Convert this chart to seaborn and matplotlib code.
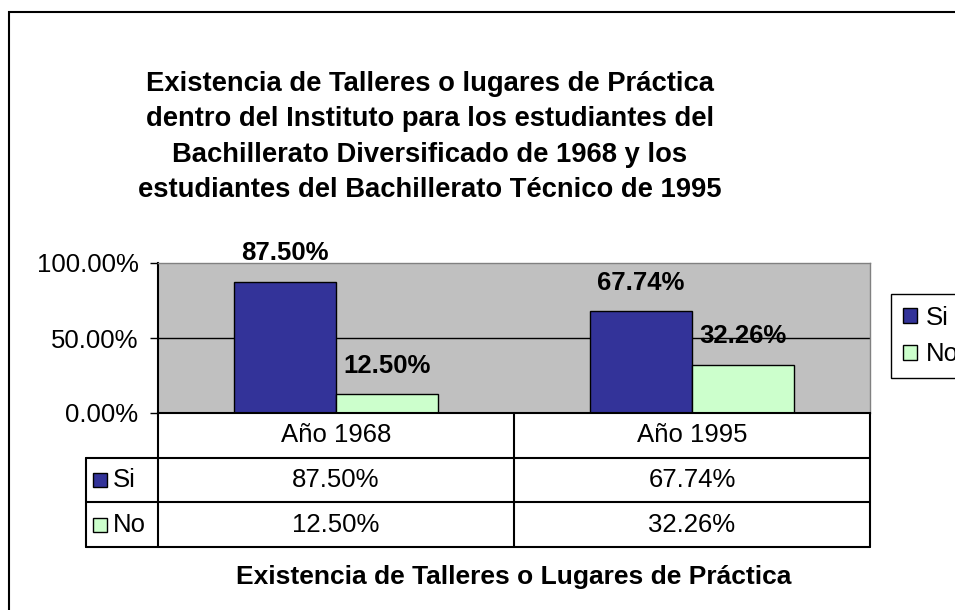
import seaborn as sns
import matplotlib.pyplot as plt
import matplotlib.patches as mpatches
import pandas as pd

# Data
anios = ["Año 1968", "Año 1995"]
respuestas = ["Si", "No"]
si_vals = [0.8750, 0.6774]
no_vals = [0.1250, 0.3226]
colores = ["#333399", "#CCFFCC"]

titulo = ("Existencia de Talleres o lugares de Práctica\n"
          "dentro del Instituto para los estudiantes del\n"
          "Bachillerato Diversificado de 1968 y los\n"
          "estudiantes del Bachillerato Técnico de 1995")
xlabel = "Existencia de Talleres o Lugares de Práctica"

sns.set_style("white")
plt.rcParams['font.family'] = ['Liberation Sans', 'DejaVu Sans']
plt.rcParams['text.color'] = 'black'
plt.rcParams['ytick.color'] = 'black'
plt.rcParams['xtick.color'] = 'black'
plt.rcParams['axes.labelcolor'] = 'black'

df = pd.DataFrame({
    "anio": anios * 2,
    "resp": [respuestas[0]] * 2 + [respuestas[1]] * 2,
    "valor": si_vals + no_vals,
})

W, H = 955, 610
fs = 18.5
fig = plt.figure(figsize=(W / 100, H / 100), dpi=100)

# outer chart frame (right and bottom edges fall outside the picture)
fig.patches.append(mpatches.Rectangle((9 / W, -0.1), 1.5, 1 - 12 / H + 0.1,
                                      transform=fig.transFigure, fill=False,
                                      edgecolor="black", linewidth=1.5))

# plot area: x 158..870 px, y 263..413 px
ax = fig.add_axes([158 / W, 1 - 413 / H, 712 / W, 150 / H])
ax.set_facecolor("#C0C0C0")
sns.barplot(data=df, x="anio", y="valor", hue="resp", palette=colores,
            width=0.573, gap=0, saturation=1, edgecolor="black",
            linewidth=1, ax=ax)
handles, labels = ax.get_legend_handles_labels()
ax.legend_.remove()

ax.set_xlim(-0.5, 1.5)
ax.set_ylim(0, 1)
ax.set_yticks([0, 0.5, 1])
ax.set_yticklabels([f"{v:.2%}" for v in [0, 0.5, 1]], fontsize=fs)
ax.tick_params(axis="y", direction="out", length=6, width=1, pad=8, left=True)
ax.set_xticks([])
ax.set_xlabel("")
ax.set_ylabel("")
ax.axhline(0.5, color="black", lw=1, zorder=0.5)
for s in ["top", "right"]:
    ax.spines[s].set_color("#808080")
    ax.spines[s].set_linewidth(1)
for s in ["left", "bottom"]:
    ax.spines[s].set_color("black")
    ax.spines[s].set_linewidth(1.5)

for cont in ax.containers:
    ax.bar_label(cont, labels=[f"{v:.2%}" for v in cont.datavalues],
                 padding=12, fontsize=fs, fontweight="bold")

# data table under the plot, columns aligned with categories
rw = (158 - 86) / 356
tax = fig.add_axes([86 / W, 1 - 547 / H, (870 - 86) / W, (547 - 413) / H])
tax.set_xlim(-0.5 - rw, 1.5)
tax.set_ylim(3, 0)
tax.axis("off")
lw = 1.5
for x in [-0.5, 0.5, 1.5]:
    tax.plot([x, x], [0, 3], color="black", lw=lw, clip_on=False)
tax.plot([-0.5 - rw, -0.5 - rw], [1, 3], color="black", lw=lw, clip_on=False)
for y in [1, 2, 3]:
    tax.plot([-0.5 - rw, 1.5], [y, y], color="black", lw=lw, clip_on=False)
for i, a in enumerate(anios):
    tax.text(i, 0.5, a, ha="center", va="center", fontsize=fs)
for r, (resp, vals, c) in enumerate(zip(respuestas, [si_vals, no_vals], colores)):
    yc = 1.5 + r
    tax.plot([-0.5 - rw + 14 / 356], [yc], marker="s", ms=10, mfc=c,
             mec="black", mew=1, clip_on=False)
    tax.text(-0.5 - rw + 27 / 356, yc, resp, ha="left", va="center", fontsize=fs)
    for i, v in enumerate(vals):
        tax.text(i, yc, f"{v:.2%}", ha="center", va="center", fontsize=fs)

# legend sits against the right edge and is cut off, as in the original
fig.legend(handles, labels, loc="upper left",
           bbox_to_anchor=(891 / W, 1 - 294 / H), frameon=True, fancybox=False,
           edgecolor="black", framealpha=1, fontsize=fs, handlelength=0.55,
           handleheight=0.55, handletextpad=0.35, borderpad=0.45,
           labelspacing=0.5, borderaxespad=0)
fig.legends[0].get_frame().set_linewidth(1)

fig.text(430 / W, 1 - 137 / H, titulo, ha="center", va="center",
         multialignment="center", fontsize=19.7, fontweight="bold",
         linespacing=1.48)
fig.text(514 / W, 1 - 577 / H, xlabel, ha="center", va="center",
         fontsize=19, fontweight="bold")

fig.savefig("out.png", dpi=100)
